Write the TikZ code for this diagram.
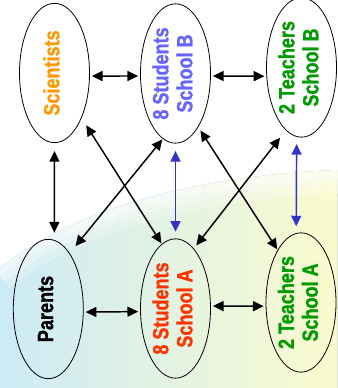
\documentclass[tikz,border=0pt]{standalone}
\usepackage{fontspec}
\newfontfamily\labelfont[FakeStretch=0.82,FakeBold=1.2]{Liberation Sans Bold}
\usepackage{graphicx}
\usetikzlibrary{arrows.meta,shapes.geometric}

\definecolor{sciorange}{RGB}{255,153,0}
\definecolor{studblue}{RGB}{102,102,255}
\definecolor{studred}{RGB}{255,51,0}
\definecolor{teachgreen}{RGB}{0,155,0}
\definecolor{linkblue}{RGB}{51,51,204}
\definecolor{bgblue}{RGB}{204,234,246}
\definecolor{bggreen}{RGB}{224,243,228}
\definecolor{bgyellow}{RGB}{250,251,206}

\newcommand{\sidelabel}[1]{\rotatebox{90}{\labelfont\fontsize{16.5}{18}\selectfont
\begin{tabular}{@{}c@{}}#1\end{tabular}}}

\begin{document}
\begin{tikzpicture}[x=0.75pt,y=-0.75pt,
party/.style={draw=black,line width=0.6pt,ellipse,inner sep=0pt,
minimum width=52.5pt,minimum height=104.5pt},
link/.style={{Triangle[length=8pt,width=7.5pt]}-{Triangle[length=8pt,width=7.5pt]},
line width=1.1pt},
bluelink/.style={link,draw=linkblue}]

\useasboundingbox (0,0) rectangle (337,388);

% background swoosh
\fill[left color=bgblue,middle color=bggreen,right color=bgyellow]
(0,388) -- (0,268) .. controls (50,228) and (150,178) .. (337,170)
-- (337,388) -- cycle;
% soft white edge
\foreach \w/\o in {34/0.25,22/0.3,12/0.35}
  \draw[white,line width=\w,opacity=\o]
  (-5,270) .. controls (50,228) and (150,178) .. (342,170);

% upper row
\node[party,text=sciorange] (sci) at (54.5,73) {\sidelabel{Scientists}};
\node[party,text=studblue] (stB) at (175.5,73.5) {\sidelabel{8 Students\\School B}};
\node[party,text=teachgreen] (teB) at (301.5,67.5) {\sidelabel{2 Teachers\\School B}};

% lower row
\node[party,text=black] (par) at (48.3,309) {\sidelabel{Parents}};
\node[party,text=studred] (stA) at (175.5,308.5) {\sidelabel{8 Students\\School A}};
\node[party,text=teachgreen] (teA) at (301,302.5) {\sidelabel{2 Teachers\\School A}};

% horizontal links
\draw[link,shorten <=1.5pt,shorten >=1.5pt] (sci.-5) -- (stB.184);
\draw[link,shorten <=1.5pt,shorten >=1.5pt] (stB.-4) -- (teB.194);
\draw[link,shorten <=1.5pt,shorten >=1.5pt] (par.-5) -- (stA.185.5);
\draw[link,shorten <=1.5pt,shorten >=1.5pt] (stA.4) -- (teA.186);

% vertical links
\draw[link,shorten <=6pt,shorten >=5.5pt] (sci.-90) -- (par.85);
\draw[bluelink,shorten <=5.5pt,shorten >=5pt] (stB.south) -- (stA.north);
\draw[bluelink,shorten <=5.3pt,shorten >=5pt] (teB.-94) -- (teA.94);

% crossing links
\draw[link,shorten <=6.4pt,shorten >=0.5pt] (sci.-59) -- (stA.102);
\draw[link,shorten <=0.5pt,shorten >=6.8pt] (stB.259) -- (par.69);
\draw[link,shorten <=3pt,shorten >=0.5pt] (stB.-67) -- (teA.114);
\draw[link,shorten <=7pt,shorten >=3pt] (teB.256) -- (stA.73);

\end{tikzpicture}
\end{document}
